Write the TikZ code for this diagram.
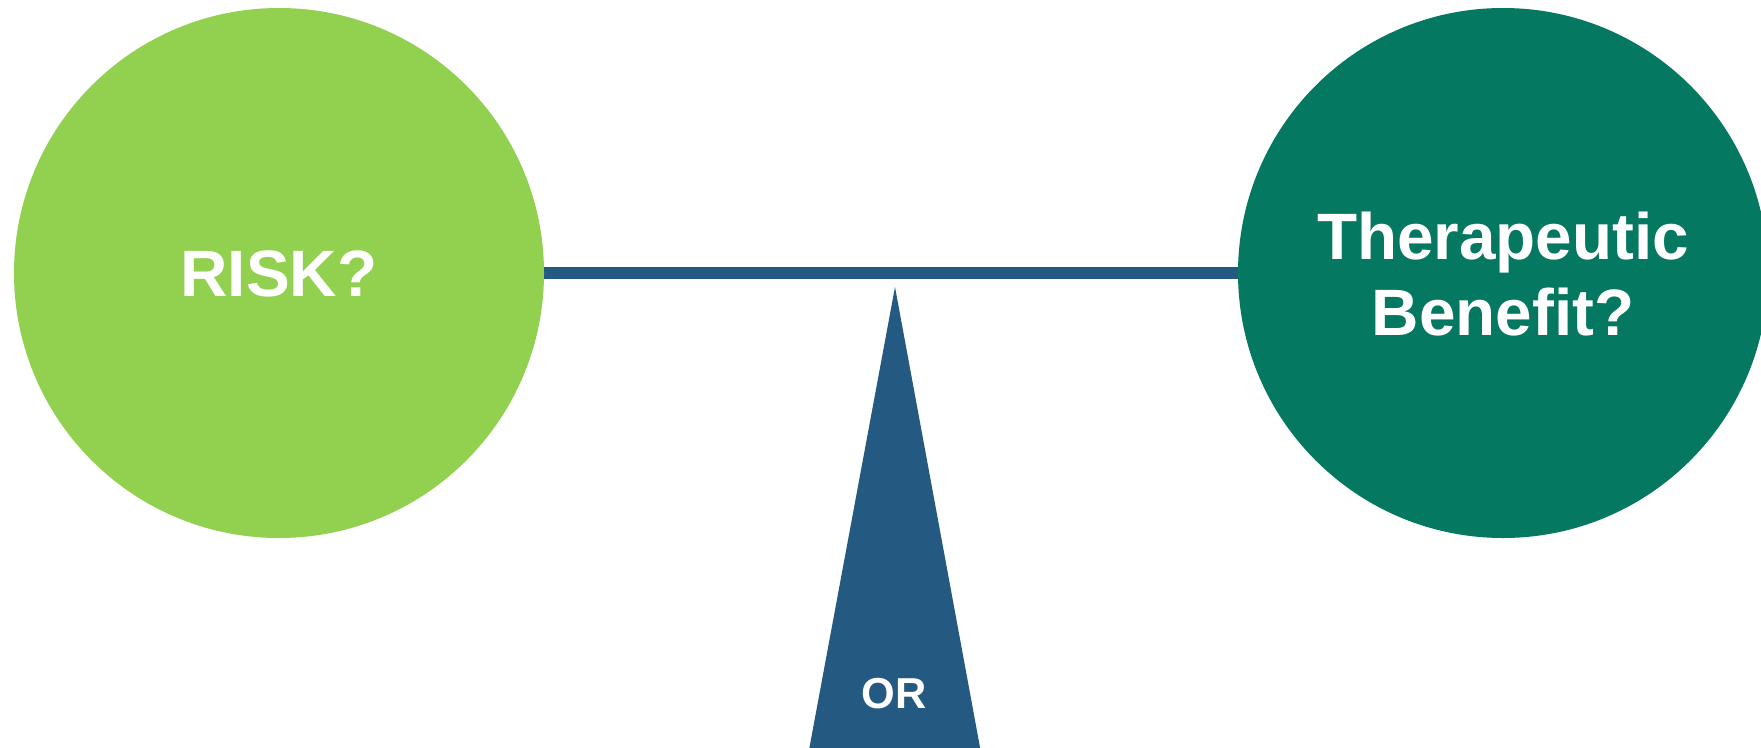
\documentclass[tikz,border=0pt]{standalone}
\usepackage{fontspec}
\setmainfont{Liberation Sans}
\definecolor{riskgreen}{HTML}{92D050}
\definecolor{benefitteal}{HTML}{057862}
\definecolor{beamblue}{HTML}{245A82}
\begin{document}
\begin{tikzpicture}[x=1pt,y=-1pt,
  bigtext/.style={text=white,font=\bfseries\fontsize{65.6}{76}\selectfont,inner sep=0pt},
  ortext/.style={text=white,font=\bfseries\fontsize{43.3}{50}\selectfont,inner sep=0pt}]
\useasboundingbox (0,0) rectangle (1761,747);
\clip (0,0) rectangle (1761,747);
% beam
\coordinate (lc) at (279,273);
\coordinate (rc) at (1503,273);
\fill[beamblue] (279,267) rectangle (1503,279);
% fulcrum
\coordinate (apex) at (895,287);
\fill[beamblue] (apex) -- (980.5,750) -- (809,750) -- cycle;
% circles
\fill[riskgreen] (lc) circle[radius=265];
\fill[benefitteal] (rc) circle[radius=265];
% texts
\node[bigtext,anchor=base] (risk) at (279,296) {RISK?};
\node[bigtext,anchor=base] (ther) at (1503,259) {Therapeutic};
\node[bigtext,anchor=base] (ben) at (1503,335) {Benefit?};
\node[ortext,anchor=base] (or) at (894,708) {OR};
\end{tikzpicture}
\end{document}
